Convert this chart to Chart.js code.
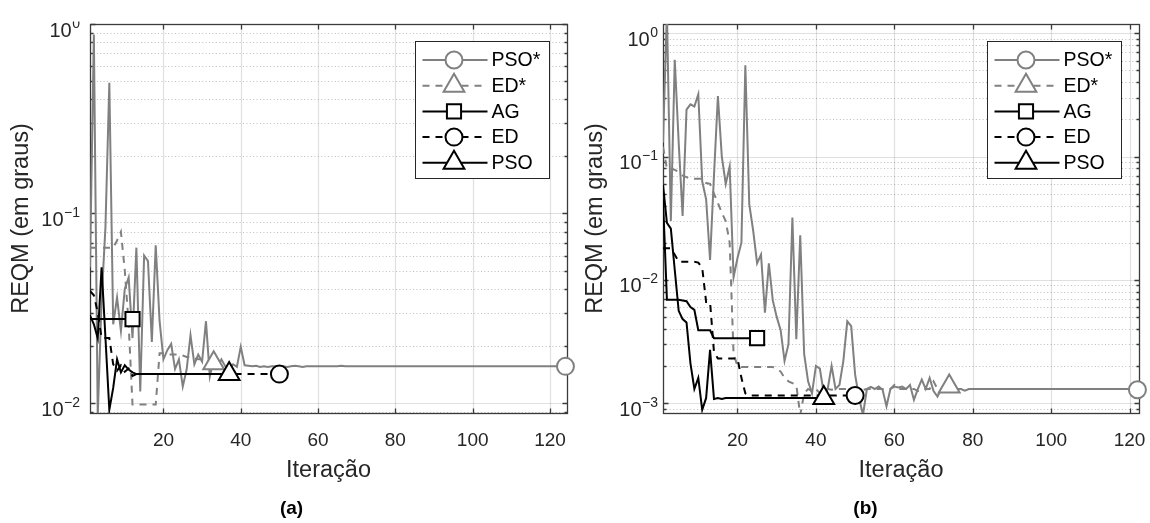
<!DOCTYPE html>
<html><head><meta charset="utf-8">
<script src="https://cdn.jsdelivr.net/npm/chart.js@4/dist/chart.umd.min.js"></script>
<style>
html,body{margin:0;padding:0;background:#fff;}
#wrap{position:relative;width:1150px;height:523px;}
.cv{position:absolute;top:0;width:575px;height:523px;}
</style></head><body>
<div id="wrap">
<div class="cv" style="left:0"><canvas id="ca"></canvas></div>
<div class="cv" style="left:575px"><canvas id="cb"></canvas></div>
</div>
<script>
// ---------- tick labels / titles ----------
const xTicks = [20, 40, 60, 80, 100, 120];
const yTicksA = [0.01, 0.1, 1];
const yTicksB = [0.001, 0.01, 0.1, 1];
const xTitle = 'Iteração';
const yTitle = 'REQM (em graus)';
const seriesNames = ['PSO*', 'ED*', 'AG', 'ED', 'PSO'];
const panelTags = ['(a)', '(b)'];

// ---------- panel (a) ----------
const psoStarA = [
  0.052, 0.88, 0.0085, 0.035, 0.085, 0.49, 0.026, 0.036, 0.024, 0.040,
  0.046, 0.022, 0.066, 0.0115, 0.060, 0.056, 0.021, 0.068, 0.027, 0.017,
  0.019, 0.0205, 0.0151, 0.017, 0.0122, 0.015, 0.0228, 0.016, 0.018, 0.0165,
  0.027, 0.0138, 0.017, 0.0155, 0.017, 0.0156, 0.0152, 0.016, 0.0155, 0.0198,
  0.0158, 0.0157, 0.0156, 0.0157, 0.0155, 0.0156, 0.0155, 0.0156, 0.0156, 0.0155,
  0.0156, 0.0155, 0.0156, 0.0157, 0.0156, 0.0155, 0.0156, 0.0156, 0.0156, 0.0156,
  0.0156, 0.0156, 0.0156, 0.0156, 0.0156, 0.0157, 0.0156, 0.0156, 0.0156, 0.0156,
  0.0156, 0.0156, 0.0156, 0.0156, 0.0156, 0.0156, 0.0156, 0.0156, 0.0156, 0.0156,
  0.0156, 0.0156, 0.0156, 0.0156, 0.0156, 0.0156, 0.0156, 0.0156, 0.0156, 0.0156,
  0.0156, 0.0156, 0.0156, 0.0156, 0.0156, 0.0156, 0.0156, 0.0156, 0.0156, 0.0156,
  0.0156, 0.0156, 0.0156, 0.0156, 0.0156, 0.0156, 0.0156, 0.0156, 0.0156, 0.0156,
  0.0156, 0.0156, 0.0156, 0.0156, 0.0156, 0.0156, 0.0156, 0.0156, 0.0156, 0.0156,
  0.0156, 0.0156, 0.0156, 0.0156
];
const edStarA = [
  0.066, 0.066, 0.066, 0.066, 0.066, 0.066, 0.066, 0.072, 0.080, 0.050,
  0.026, 0.0098, 0.0098, 0.0098, 0.0098, 0.0098, 0.0098, 0.0098, 0.0183, 0.0183,
  0.0180, 0.0180, 0.0180, 0.0180, 0.0178, 0.0175, 0.0175, 0.0172, 0.0170, 0.0170,
  0.0166, 0.0165, 0.0162
];
const agA = [0.0277, 0.0277, 0.0277, 0.0277, 0.0277, 0.0277, 0.0277, 0.0277, 0.0277, 0.0277, 0.0277, 0.0277];
const edA = [
  0.039, 0.037, 0.030, 0.022, 0.022, 0.022, 0.016, 0.0148, 0.0158, 0.0146,
  0.0152, 0.0139, 0.0142, 0.0142, 0.0142, 0.0142, 0.0142, 0.0142, 0.0142, 0.0142,
  0.0142, 0.0142, 0.0142, 0.0142, 0.0142, 0.0142, 0.0142, 0.0142, 0.0142, 0.0142,
  0.0142, 0.0142, 0.0142, 0.0142, 0.0142, 0.0142, 0.0142, 0.0142, 0.0142, 0.0142,
  0.0142, 0.0142, 0.0142, 0.0142, 0.0142, 0.0142, 0.0142, 0.0142, 0.0142, 0.0142
];
const psoA = [
  0.029, 0.026, 0.022, 0.052, 0.022, 0.0092, 0.012, 0.017, 0.0145, 0.0158,
  0.0150, 0.0145, 0.0142, 0.0142, 0.0142, 0.0142, 0.0142, 0.0142, 0.0142, 0.0142,
  0.0142, 0.0142, 0.0142, 0.0142, 0.0142, 0.0142, 0.0142, 0.0142, 0.0142, 0.0142,
  0.0142, 0.0142, 0.0142, 0.0142, 0.0142, 0.0142, 0.0142
];

// ---------- panel (b) ----------
const psoStarB = [
  0.13, 1.5, 0.03, 0.61, 0.13, 0.033, 0.24, 0.265, 0.255, 0.32,
  0.063, 0.045, 0.0145, 0.07, 0.31, 0.10, 0.06, 0.083, 0.0105, 0.015,
  0.02, 0.55, 0.041, 0.025, 0.0136, 0.016, 0.0054, 0.0136, 0.0068, 0.005,
  0.0039, 0.0022, 0.003, 0.032, 0.0033, 0.023, 0.0025, 0.0015, 0.0012, 0.002,
  0.0019, 0.0012, 0.0013, 0.002, 0.0013, 0.0014, 0.0022, 0.0046, 0.0042, 0.0017,
  0.0011, 0.0008, 0.0013, 0.00135, 0.0013, 0.00136, 0.00128, 0.00094, 0.0013, 0.00136,
  0.00134, 0.00136, 0.0013, 0.0014, 0.00106, 0.0013, 0.00155, 0.0013, 0.0016, 0.00125,
  0.00113, 0.0013, 0.0013, 0.0013, 0.0013, 0.0013, 0.0013, 0.00126, 0.0013, 0.0013,
  0.0013, 0.0013, 0.0013, 0.0013, 0.0013, 0.0013, 0.0013, 0.0013, 0.0013, 0.0013,
  0.0013, 0.0013, 0.0013, 0.0013, 0.0013, 0.0013, 0.0013, 0.0013, 0.0013, 0.0013,
  0.0013, 0.0013, 0.0013, 0.0013, 0.0013, 0.0013, 0.0013, 0.0013, 0.0013, 0.0013,
  0.0013, 0.0013, 0.0013, 0.0013, 0.0013, 0.0013, 0.0013, 0.0013, 0.0013, 0.0013,
  0.0013, 0.00128
];
const edStarB = [
  0.12, 0.08, 0.08, 0.078, 0.075, 0.07, 0.068, 0.066, 0.066, 0.066,
  0.066, 0.061, 0.06, 0.05, 0.042, 0.035, 0.03, 0.02, 0.0025, 0.002,
  0.00196, 0.00196, 0.00196, 0.00196, 0.00196, 0.00196, 0.00196, 0.00196, 0.00196, 0.0019,
  0.0018, 0.0016, 0.0015, 0.00145, 0.0014, 0.0008, 0.0012, 0.0013, 0.00125, 0.0013,
  0.0012, 0.0013, 0.0013, 0.00128, 0.0013, 0.0013, 0.0013, 0.0013, 0.00125, 0.0013,
  0.0013, 0.00128, 0.0013, 0.0013, 0.0013, 0.0013, 0.0013, 0.0013, 0.0013, 0.0014,
  0.0013, 0.0013, 0.0013, 0.0013, 0.0013, 0.00125, 0.0013, 0.0013, 0.0013, 0.0015,
  0.0013, 0.00125, 0.0013, 0.00136
];
const agB = [
  0.045, 0.0069, 0.0069, 0.0069, 0.0069, 0.0068, 0.0067, 0.0060, 0.0057, 0.0039,
  0.0039, 0.0039, 0.0039, 0.00336, 0.00336, 0.00336, 0.00336, 0.00336, 0.00336, 0.00336,
  0.00336, 0.00336, 0.00336, 0.00336, 0.00336
];
const edB = [
  0.018, 0.018, 0.018, 0.016, 0.014, 0.014, 0.014, 0.014, 0.014, 0.0138,
  0.0125, 0.0066, 0.0066, 0.0026, 0.0023, 0.0023, 0.0023, 0.0023, 0.0023, 0.0023,
  0.0016, 0.0012, 0.00115, 0.00115, 0.00115, 0.00115, 0.00115, 0.00115, 0.00115, 0.00115,
  0.00115, 0.00115, 0.00115, 0.00115, 0.00115, 0.00115, 0.00115, 0.00115, 0.00115, 0.00115,
  0.00115, 0.00115, 0.00115, 0.00115, 0.00115, 0.00115, 0.00115, 0.00115, 0.00115, 0.00115
];
const psoB = [
  0.059, 0.029, 0.026, 0.012, 0.0056, 0.0048, 0.0045, 0.0021, 0.0013, 0.0016,
  0.00088, 0.0011, 0.0027, 0.00108, 0.0011, 0.00108, 0.0011, 0.0011, 0.0011, 0.0011,
  0.0011, 0.0011, 0.0011, 0.0011, 0.0011, 0.0011, 0.0011, 0.0011, 0.0011, 0.0011,
  0.0011, 0.0011, 0.0011, 0.0011, 0.0011, 0.0011, 0.0011, 0.0011, 0.0011, 0.0011,
  0.0011, 0.0011
];

// ---------- styling ----------
const FONT = '"Liberation Sans", Arial, Helvetica, sans-serif';
Chart.defaults.font.family = FONT;
Chart.defaults.color = '#262626';
const AXIS_TEXT = '#262626';
const GRAY = 'rgb(128,128,128)';
const BLACK = '#000000';
const styles = [
  {color: GRAY,  dash: [],     marker: 'circle',   r: 8.5},
  {color: GRAY,  dash: [7, 6], marker: 'triangle', r: 12},
  {color: BLACK, dash: [],     marker: 'rect',     r: 10},
  {color: BLACK, dash: [7, 6], marker: 'circle',   r: 8.5},
  {color: BLACK, dash: [],     marker: 'triangle', r: 12}
];

function buildDatasets(lists) {
  return lists.map((vals, k) => {
    const st = styles[k];
    const last = vals.length - 1;
    return {
      label: seriesNames[k],
      data: vals.map((v, i) => ({x: i + 1, y: v})),
      borderColor: st.color,
      borderWidth: 2,
      borderDash: st.dash,
      pointStyle: st.marker,
      markerR: st.r,
      pointRadius: c => (c.dataIndex === last ? st.r : 0),
      pointHoverRadius: 0,
      pointBackgroundColor: '#ffffff',
      pointBorderColor: st.color,
      pointBorderWidth: 2,
      tension: 0,
      fill: false,
      order: 5 - k,
      clip: {left: 0, top: 0, right: 14, bottom: 0}
    };
  });
}

function drawMarker(ctx, style, r, x, y) {
  ctx.beginPath();
  if (style === 'circle') {
    ctx.arc(x, y, r, 0, Math.PI * 2);
  } else if (style === 'rect') {
    const s = Math.SQRT1_2 * r;
    ctx.rect(x - s, y - s, 2 * s, 2 * s);
  } else {
    let a = 0;
    ctx.moveTo(x + Math.sin(a) * r, y - Math.cos(a) * r);
    a += 2 * Math.PI / 3;
    ctx.lineTo(x + Math.sin(a) * r, y - Math.cos(a) * r);
    a += 2 * Math.PI / 3;
    ctx.lineTo(x + Math.sin(a) * r, y - Math.cos(a) * r);
    ctx.closePath();
  }
  ctx.fill();
  ctx.stroke();
}

const framePlugin = {
  id: 'frame',
  beforeDatasetsDraw(chart) {
    const {ctx, chartArea: a, scales: {x, y}} = chart;
    const lo = Math.floor(Math.log10(y.min) - 1e-9), hi = Math.ceil(Math.log10(y.max) + 1e-9);
    ctx.save();
    ctx.beginPath();
    ctx.rect(a.left, a.top, a.right - a.left, a.bottom - a.top);
    ctx.clip();
    // minor dotted grid
    ctx.lineWidth = 1;
    ctx.strokeStyle = 'rgba(38,38,38,0.3)';
    ctx.setLineDash([1, 2.4]);
    for (let e = lo; e < hi; e++) {
      for (let m = 2; m <= 9; m++) {
        const v = m * Math.pow(10, e);
        if (v < y.min || v > y.max) continue;
        const py = Math.round(y.getPixelForValue(v)) + 0.5;
        ctx.beginPath(); ctx.moveTo(a.left, py); ctx.lineTo(a.right, py); ctx.stroke();
      }
    }
    // major grid
    ctx.setLineDash([]);
    ctx.strokeStyle = 'rgba(38,38,38,0.14)';
    ctx.lineWidth = 1.2;
    x.ticks.forEach(t => {
      const px = Math.round(x.getPixelForValue(t.value)) + 0.5;
      ctx.beginPath(); ctx.moveTo(px, a.top); ctx.lineTo(px, a.bottom); ctx.stroke();
    });
    y.ticks.forEach(t => {
      const py = Math.round(y.getPixelForValue(t.value)) + 0.5;
      ctx.beginPath(); ctx.moveTo(a.left, py); ctx.lineTo(a.right, py); ctx.stroke();
    });
    ctx.restore();

    // axes box and inward ticks
    ctx.save();
    ctx.strokeStyle = '#3a3a3a';
    ctx.lineWidth = 1.3;
    const L = Math.round(a.left) + 0.5, R = Math.round(a.right) + 0.5;
    const T = Math.round(a.top) + 0.5, B = Math.round(a.bottom) + 0.5;
    ctx.strokeRect(L, T, R - L, B - T);
    ctx.beginPath();
    x.ticks.forEach(t => {
      const px = Math.round(x.getPixelForValue(t.value)) + 0.5;
      ctx.moveTo(px, B); ctx.lineTo(px, B - 5);
      ctx.moveTo(px, T); ctx.lineTo(px, T + 5);
    });
    for (let e = lo; e <= hi; e++) {
      for (let m = 1; m <= 9; m++) {
        const v = m * Math.pow(10, e);
        if (v < y.min || v > y.max) continue;
        const len = m === 1 ? 5 : 3;
        const py = Math.round(y.getPixelForValue(v)) + 0.5;
        ctx.moveTo(L, py); ctx.lineTo(L + len, py);
        ctx.moveTo(R, py); ctx.lineTo(R - len, py);
      }
    }
    ctx.stroke();
    ctx.restore();
  }
};

// y tick labels as 10 with superscript exponent, positioned with the y scale
const yLabelPlugin = {
  id: 'ylabels',
  afterDraw(chart, args, opts) {
    const {ctx, chartArea: a, scales: {y}} = chart;
    ctx.save();
    ctx.beginPath();
    ctx.rect(0, 21.5, chart.width, chart.height);
    ctx.clip();
    ctx.fillStyle = AXIS_TEXT;
    ctx.textBaseline = 'alphabetic';
    ctx.textAlign = 'left';
    y.ticks.forEach(t => {
      const e = Math.round(Math.log10(t.value));
      const expTxt = e < 0 ? '\u2212' + String(-e) : String(e);
      const py = y.getPixelForValue(t.value);
      ctx.font = '14px ' + FONT;
      const we = ctx.measureText(expTxt).width;
      ctx.font = '20px ' + FONT;
      const wb = ctx.measureText('10').width;
      const right = a.left - opts.gap;
      const x0 = right - we - wb - 0.5;
      ctx.fillText('10', x0, py + 12.7);
      ctx.font = '14px ' + FONT;
      ctx.fillText(expTxt, x0 + wb + 0.5, py + 3.7);
    });
    ctx.restore();
    // panel tag
    ctx.save();
    ctx.fillStyle = '#000000';
    ctx.font = 'bold 19px ' + FONT;
    ctx.textAlign = 'center';
    ctx.textBaseline = 'middle';
    ctx.fillText(opts.tag, opts.tagX, 509);
    ctx.restore();
  }
};

const legendPlugin = {
  id: 'mlegend',
  afterDraw(chart) {
    const {ctx, chartArea: a} = chart;
    const W = 134, H = 137;
    const L = Math.round(a.right - 18.5 - W), T = Math.round(a.top + 17);
    ctx.save();
    ctx.fillStyle = '#ffffff';
    ctx.fillRect(L, T, W, H);
    ctx.strokeStyle = '#262626';
    ctx.lineWidth = 1;
    ctx.strokeRect(L + 0.5, T + 0.5, W, H);
    chart.data.datasets.forEach((ds, k) => {
      const cy = T + 19 + k * 25.7;
      ctx.strokeStyle = ds.borderColor;
      ctx.lineWidth = 2;
      ctx.setLineDash(ds.borderDash || []);
      ctx.beginPath(); ctx.moveTo(L + 7.5, cy); ctx.lineTo(L + 72.5, cy); ctx.stroke();
      ctx.setLineDash([]);
      ctx.fillStyle = '#ffffff';
      ctx.strokeStyle = ds.pointBorderColor;
      drawMarker(ctx, ds.pointStyle, ds.markerR, L + 39, cy);
      ctx.fillStyle = '#000000';
      ctx.font = '19.5px ' + FONT;
      ctx.textBaseline = 'middle';
      ctx.textAlign = 'left';
      ctx.fillText(ds.label, L + 76.5, cy + 1);
    });
    ctx.restore();
  }
};

function makeChart(id, lists, cfg) {
  return new Chart(document.getElementById(id), {
    type: 'line',
    data: {datasets: buildDatasets(lists)},
    options: {
      responsive: true,
      maintainAspectRatio: false,
      animation: false,
      devicePixelRatio: 1,
      events: [],
      layout: {autoPadding: false, padding: {left: 0, right: cfg.padRight, top: 24, bottom: 0}},
      plugins: {
        legend: {display: false},
        tooltip: {enabled: false},
        ylabels: {gap: cfg.labelGap, tag: cfg.tag, tagX: cfg.tagX}
      },
      scales: {
        x: {
          type: 'linear', min: 1, max: cfg.xMax,
          grid: {display: true, drawOnChartArea: false, drawTicks: true, tickLength: 13, tickColor: 'rgba(0,0,0,0)'},
          border: {display: false},
          afterBuildTicks: sc => { sc.ticks = xTicks.map(v => ({value: v})); },
          ticks: {font: {size: 19}, padding: 3, maxRotation: 0, autoSkip: false, color: AXIS_TEXT},
          title: {display: true, text: xTitle, font: {size: 23.5}, padding: {top: 0, bottom: 38}, color: AXIS_TEXT},
          afterFit: sc => { sc.height = 110; }
        },
        y: {
          type: 'logarithmic', min: cfg.yMin, max: cfg.yMax,
          grid: {display: false}, border: {display: false},
          afterBuildTicks: sc => { sc.ticks = cfg.yTicks.map(v => ({value: v})); },
          ticks: {display: false},
          title: {display: true, text: yTitle, font: {size: 23.5}, padding: {top: cfg.yTitlePad, bottom: 0}, color: AXIS_TEXT},
          afterFit: sc => { sc.width = cfg.yW; }
        }
      }
    },
    plugins: [framePlugin, yLabelPlugin, legendPlugin]
  });
}

makeChart('ca', [psoStarA, edStarA, agA, edA, psoA], {
  tag: panelTags[0], tagX: 291.5, xMax: 124.4, yMin: 0.00885, yMax: 1, yTicks: yTicksA,
  yW: 90, yTitlePad: 7, padRight: 8, labelGap: 10
});
makeChart('cb', [psoStarB, edStarB, agB, edB, psoB], {
  tag: panelTags[1], tagX: 290.5, xMax: 122.4, yMin: 0.00083, yMax: 1.19, yTicks: yTicksB,
  yW: 88, yTitlePad: 6, padRight: 11, labelGap: 5
});
</script>
</body></html>
